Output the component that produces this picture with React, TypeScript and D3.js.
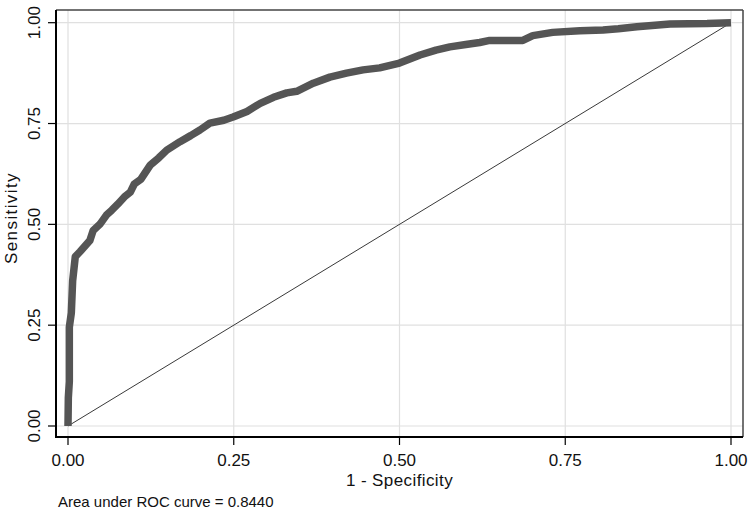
import React from "react";
import * as d3 from "d3";

const fpr = [0, 0.0005, 0.002, 0.002, 0.005, 0.007, 0.011, 0.018, 0.025, 0.033, 0.038, 0.048, 0.058, 0.066, 0.075, 0.085, 0.094, 0.1, 0.11, 0.124, 0.137, 0.149, 0.169, 0.185, 0.199, 0.214, 0.235, 0.249, 0.27, 0.29, 0.31, 0.33, 0.345, 0.37, 0.395, 0.42, 0.445, 0.47, 0.5, 0.531, 0.555, 0.576, 0.6, 0.621, 0.636, 0.686, 0.701, 0.731, 0.772, 0.807, 0.83, 0.858, 0.908, 0.964, 1];
const tpr = [0, 0.07, 0.11, 0.245, 0.28, 0.36, 0.42, 0.432, 0.445, 0.46, 0.485, 0.5, 0.523, 0.535, 0.55, 0.568, 0.58, 0.6, 0.612, 0.647, 0.665, 0.684, 0.705, 0.72, 0.734, 0.751, 0.758, 0.766, 0.78, 0.8, 0.815, 0.826, 0.83, 0.85, 0.865, 0.875, 0.883, 0.888, 0.9, 0.92, 0.932, 0.94, 0.946, 0.951, 0.956, 0.956, 0.968, 0.976, 0.98, 0.982, 0.985, 0.99, 0.997, 0.998, 1];
const xTicks = [0, 0.25, 0.5, 0.75, 1];
const yTicks = [0, 0.25, 0.5, 0.75, 1];
const xTitle = "1 - Specificity";
const yTitle = "Sensitivity";
const note = "Area under ROC curve = 0.8440";

export default function App() {
  const W = 750, H = 512;
  const frame = { left: 56, right: 743, top: 10, bottom: 437 };
  const x = d3.scaleLinear().domain([0, 1]).range([68, 731]);
  const y = d3.scaleLinear().domain([0, 1]).range([426, 22.7]);
  const pts: [number, number][] = fpr.map((f, i) => [f, tpr[i]]);
  const line = d3.line<[number, number]>().x(d => x(d[0])).y(d => y(d[1]));
  const font = "Arial, 'Liberation Sans', sans-serif";
  return (
    <svg width={W} height={H} style={{ position: "absolute", left: 0, top: 0, background: "#fff" }} fontFamily={font}>
      <rect x={0} y={0} width={W} height={H} fill="#fff" />
      {xTicks.map(t => (
        <line key={"gx" + t} x1={x(t)} x2={x(t)} y1={frame.top} y2={frame.bottom} stroke="#e0e0e0" strokeWidth={1.2} />
      ))}
      {yTicks.map(t => (
        <line key={"gy" + t} x1={frame.left} x2={frame.right} y1={y(t)} y2={y(t)} stroke="#e0e0e0" strokeWidth={1.2} />
      ))}
      <line x1={x(0)} y1={y(0)} x2={x(1)} y2={y(1)} stroke="#222" strokeWidth={0.9} />
      <path d={line(pts) || ""} fill="none" stroke="#555555" strokeWidth={7.5} strokeLinejoin="round" strokeLinecap="butt" />
      <line x1={frame.left} x2={frame.right} y1={frame.top} y2={frame.top} stroke="#444" strokeWidth={1.5} />
      <line x1={frame.right} x2={frame.right} y1={frame.top} y2={frame.bottom} stroke="#444" strokeWidth={1.5} />
      <line x1={frame.left} x2={frame.left} y1={frame.top} y2={frame.bottom + 1} stroke="#000" strokeWidth={2} />
      <line x1={frame.left - 1} x2={frame.right} y1={frame.bottom} y2={frame.bottom} stroke="#000" strokeWidth={2} />
      {xTicks.map(t => (
        <g key={"tx" + t}>
          <line x1={x(t)} x2={x(t)} y1={frame.bottom} y2={frame.bottom + 8} stroke="#000" strokeWidth={1.2} />
          <text x={x(t)} y={466} textAnchor="middle" fontSize={17} fill="#111">{t.toFixed(2)}</text>
        </g>
      ))}
      {yTicks.map(t => (
        <g key={"ty" + t}>
          <line x1={frame.left - 8} x2={frame.left} y1={y(t)} y2={y(t)} stroke="#000" strokeWidth={1.2} />
          <text transform={`translate(40,${y(t)}) rotate(-90)`} textAnchor="middle" fontSize={17} fill="#111">{t.toFixed(2)}</text>
        </g>
      ))}
      <text x={(x(0) + x(1)) / 2} y={486} textAnchor="middle" fontSize={17} letterSpacing={0.4} fill="#111">{xTitle}</text>
      <text transform={`translate(17,218) rotate(-90)`} textAnchor="middle" fontSize={17} letterSpacing={1.4} fill="#111">{yTitle}</text>
      <text x={58} y={507} fontSize={15} fill="#111">{note}</text>
    </svg>
  );
}
